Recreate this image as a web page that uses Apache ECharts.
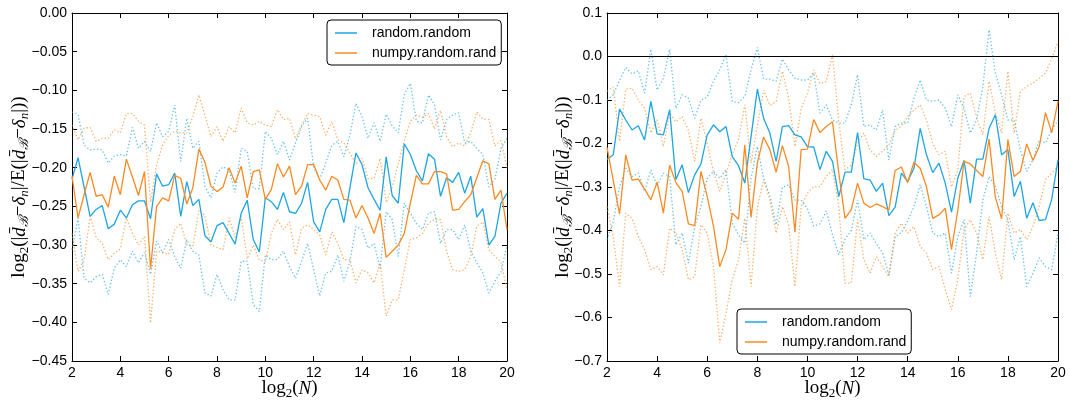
<!DOCTYPE html>
<html><head><meta charset="utf-8">
<script src="https://cdn.jsdelivr.net/npm/echarts@6/dist/echarts.min.js"></script>
<style>html,body{margin:0;padding:0;background:#fff}#c{width:1070px;height:404px}</style>
</head><body><div id="c"></div>
<script>
const X = [2,2.25,2.5,2.75,3,3.25,3.5,3.75,4,4.25,4.5,4.75,5,5.25,5.5,5.75,6,6.25,6.5,6.75,7,7.25,7.5,7.75,8,8.25,8.5,8.75,9,9.25,9.5,9.75,10,10.25,10.5,10.75,11,11.25,11.5,11.75,12,12.25,12.5,12.75,13,13.25,13.5,13.75,14,14.25,14.5,14.75,15,15.25,15.5,15.75,16,16.25,16.5,16.75,17,17.25,17.5,17.75,18,18.25,18.5,18.75,19,19.25,19.5,19.75,20];
const X_TICKS = [2,4,6,8,10,12,14,16,18,20];
const L_Y_TICKS = [0,-0.05,-0.1,-0.15,-0.2,-0.25,-0.3,-0.35,-0.4,-0.45];
const R_Y_TICKS = [0.1,0,-0.1,-0.2,-0.3,-0.4,-0.5,-0.6,-0.7];
const LEGEND_NAMES = ['random.random','numpy.random.rand'];
const ZERO_LINE = 0;

// left panel
const L_rr_mean = [-0.215,-0.187,-0.225,-0.263,-0.254,-0.249,-0.279,-0.273,-0.255,-0.265,
 -0.248,-0.243,-0.243,-0.266,-0.208,-0.224,-0.222,-0.207,-0.263,-0.218,
 -0.249,-0.241,-0.288,-0.296,-0.275,-0.271,-0.285,-0.299,-0.259,-0.242,
 -0.293,-0.309,-0.239,-0.244,-0.254,-0.232,-0.257,-0.259,-0.246,-0.219,
 -0.270,-0.283,-0.254,-0.241,-0.241,-0.271,-0.226,-0.181,-0.196,-0.226,
 -0.241,-0.255,-0.186,-0.236,-0.246,-0.169,-0.183,-0.204,-0.217,-0.182,
 -0.189,-0.237,-0.213,-0.219,-0.206,-0.233,-0.211,-0.264,-0.253,-0.300,
 -0.289,-0.246,-0.233];
const L_rr_hi = [-0.128,-0.131,-0.171,-0.177,-0.176,-0.177,-0.194,-0.185,-0.183,-0.185,
 -0.148,-0.175,-0.166,-0.179,-0.142,-0.160,-0.153,-0.119,-0.192,-0.136,
 -0.175,-0.166,-0.224,-0.239,-0.207,-0.199,-0.203,-0.232,-0.175,-0.179,
 -0.227,-0.227,-0.153,-0.162,-0.183,-0.166,-0.190,-0.168,-0.147,-0.136,
 -0.200,-0.215,-0.194,-0.171,-0.166,-0.186,-0.158,-0.117,-0.134,-0.162,
 -0.142,-0.166,-0.131,-0.146,-0.155,-0.106,-0.091,-0.140,-0.142,-0.106,
 -0.119,-0.164,-0.138,-0.132,-0.129,-0.168,-0.166,-0.175,-0.183,-0.225,
 -0.215,-0.175,-0.162];
const L_rr_lo = [-0.306,-0.265,-0.343,-0.349,-0.341,-0.338,-0.364,-0.330,-0.319,-0.328,
 -0.308,-0.323,-0.310,-0.338,-0.295,-0.310,-0.293,-0.315,-0.330,-0.293,
 -0.308,-0.313,-0.362,-0.366,-0.338,-0.358,-0.371,-0.371,-0.321,-0.321,
 -0.377,-0.386,-0.313,-0.319,-0.319,-0.308,-0.328,-0.343,-0.321,-0.298,
 -0.332,-0.366,-0.336,-0.334,-0.313,-0.347,-0.321,-0.276,-0.280,-0.304,
 -0.298,-0.330,-0.257,-0.267,-0.315,-0.246,-0.259,-0.272,-0.280,-0.259,
 -0.257,-0.298,-0.280,-0.280,-0.293,-0.274,-0.308,-0.323,-0.336,-0.362,
 -0.347,-0.335,-0.300];
const L_np_mean = [-0.211,-0.265,-0.235,-0.206,-0.237,-0.235,-0.251,-0.211,-0.235,-0.189,
 -0.212,-0.236,-0.205,-0.331,-0.250,-0.239,-0.243,-0.210,-0.214,-0.247,
 -0.226,-0.176,-0.193,-0.224,-0.231,-0.225,-0.200,-0.220,-0.198,-0.239,
 -0.205,-0.203,-0.241,-0.228,-0.195,-0.212,-0.198,-0.235,-0.224,-0.196,
 -0.196,-0.216,-0.229,-0.211,-0.216,-0.241,-0.242,-0.265,-0.249,-0.265,
 -0.285,-0.259,-0.316,-0.308,-0.300,-0.285,-0.246,-0.210,-0.221,-0.221,
 -0.205,-0.205,-0.208,-0.255,-0.254,-0.244,-0.235,-0.213,-0.191,-0.195,
 -0.241,-0.229,-0.280];
const L_np_hi = [-0.145,-0.164,-0.149,-0.148,-0.166,-0.162,-0.162,-0.151,-0.155,-0.130,
 -0.130,-0.140,-0.145,-0.245,-0.196,-0.171,-0.158,-0.153,-0.155,-0.155,
 -0.134,-0.106,-0.132,-0.160,-0.147,-0.166,-0.147,-0.155,-0.123,-0.142,
 -0.145,-0.140,-0.145,-0.147,-0.125,-0.138,-0.136,
 -0.163,-0.145,-0.130,-0.132,-0.134,-0.158,-0.140,-0.164,-0.168,-0.181,
 -0.195,-0.188,-0.214,-0.214,-0.188,-0.245,-0.225,-0.195,-0.165,-0.140,
 -0.132,-0.135,-0.130,-0.150,-0.126,-0.160,-0.173,-0.168,-0.172,-0.155,
 -0.128,-0.137,-0.138,-0.172,-0.165,-0.200];
const L_np_lo = [-0.285,-0.334,-0.320,-0.263,-0.290,-0.298,-0.319,-0.311,-0.305,-0.265,
 -0.285,-0.300,-0.289,-0.401,-0.308,-0.310,-0.312,-0.280,-0.272,-0.300,
 -0.302,-0.255,-0.262,-0.300,-0.303,-0.306,-0.265,-0.290,-0.263,-0.318,
 -0.300,-0.319,-0.322,-0.285,-0.267,-0.280,
 -0.270,-0.313,-0.278,-0.274,-0.280,-0.287,-0.313,-0.283,-0.298,-0.319,
 -0.319,-0.349,-0.332,-0.336,-0.349,-0.323,-0.392,-0.371,-0.371,-0.332,
 -0.293,-0.291,-0.285,-0.272,-0.267,-0.267,-0.308,-0.332,-0.334,-0.332,
 -0.315,-0.276,-0.270,-0.306,-0.315,-0.322,-0.358];

// right panel
const R_rr_mean = [-0.236,-0.226,-0.121,-0.146,-0.169,-0.159,-0.192,-0.103,-0.178,-0.180,
 -0.122,-0.283,-0.249,-0.313,-0.272,-0.247,-0.180,-0.157,-0.173,-0.161,
 -0.230,-0.251,-0.291,-0.184,-0.075,-0.142,-0.176,-0.241,-0.161,-0.159,
 -0.180,-0.185,-0.207,-0.208,-0.260,-0.218,-0.241,-0.322,-0.266,-0.266,
 -0.175,-0.281,-0.284,-0.310,-0.291,-0.366,-0.346,-0.268,-0.287,-0.257,
 -0.165,-0.226,-0.267,-0.245,-0.291,-0.358,-0.280,-0.239,-0.337,-0.236,
 -0.236,-0.165,-0.134,-0.226,-0.214,-0.322,-0.287,-0.372,-0.336,-0.377,
 -0.375,-0.328,-0.237];
const R_rr_hi = [-0.100,-0.088,-0.055,-0.025,-0.040,-0.033,-0.084,0.017,-0.077,-0.050,
 0.017,-0.119,-0.088,-0.096,-0.142,-0.100,-0.093,-0.057,-0.031,0.004,
 -0.103,-0.106,-0.092,-0.031,0.021,-0.052,-0.052,-0.057,-0.006,-0.031,
 -0.050,-0.054,-0.054,-0.038,-0.130,-0.111,-0.146,
 -0.153,-0.153,-0.111,-0.042,-0.161,-0.157,-0.169,-0.123,-0.238,-0.161,
 -0.153,-0.153,-0.096,-0.054,-0.100,-0.103,-0.100,-0.119,-0.161,-0.088,
 -0.119,-0.176,-0.146,-0.069,0.061,-0.038,-0.088,-0.146,-0.146,-0.215,
 -0.264,-0.238,-0.192,-0.199,-0.169,-0.146];
const R_rr_lo = [-0.421,-0.380,-0.300,-0.257,-0.276,-0.268,-0.310,-0.261,-0.298,-0.268,
 -0.276,-0.433,-0.406,-0.475,-0.391,-0.345,-0.280,-0.264,-0.280,-0.260,
 -0.383,-0.410,-0.429,-0.280,-0.207,-0.280,-0.320,-0.387,-0.300,-0.295,
 -0.330,-0.330,-0.350,-0.390,-0.385,-0.355,-0.410,-0.456,-0.420,-0.400,
 -0.330,-0.421,-0.406,-0.430,-0.452,-0.502,-0.414,-0.405,-0.378,-0.345,
 -0.295,-0.345,-0.406,-0.414,-0.406,-0.498,-0.414,-0.375,-0.552,-0.452,
 -0.330,-0.276,-0.299,-0.345,-0.375,-0.467,-0.414,-0.529,-0.498,-0.463,
 -0.483,-0.490,-0.406];
const R_np_mean = [-0.209,-0.285,-0.362,-0.226,-0.284,-0.282,-0.305,-0.329,-0.289,-0.360,
 -0.250,-0.290,-0.310,-0.385,-0.389,-0.264,-0.322,-0.390,-0.483,-0.444,
 -0.360,-0.374,-0.203,-0.370,-0.245,-0.185,-0.214,-0.266,-0.205,-0.253,
 -0.404,-0.214,-0.213,-0.145,-0.175,-0.161,-0.150,
 -0.267,-0.372,-0.352,-0.291,-0.337,-0.347,-0.339,-0.345,-0.353,-0.262,
 -0.254,-0.290,-0.243,-0.257,-0.299,-0.372,-0.364,-0.349,-0.444,-0.354,
 -0.241,-0.247,-0.262,-0.276,-0.190,-0.324,-0.373,-0.191,-0.276,-0.264,
 -0.201,-0.239,-0.207,-0.129,-0.175,-0.103];
const R_np_hi = [-0.080,-0.070,-0.195,-0.075,-0.073,-0.100,-0.119,-0.176,-0.145,-0.207,
 -0.130,-0.150,-0.138,-0.170,-0.241,-0.142,-0.200,-0.265,-0.310,-0.270,
 -0.225,-0.190,-0.111,-0.245,-0.160,-0.077,-0.112,-0.104,-0.034,-0.095,
 -0.207,-0.120,-0.085,-0.031,-0.062,-0.058,0.004,
 -0.150,-0.260,-0.250,-0.200,-0.176,-0.215,-0.230,-0.218,-0.203,-0.170,
 -0.160,-0.138,-0.123,-0.111,-0.146,-0.200,-0.226,-0.218,-0.300,-0.261,
 -0.092,-0.084,-0.140,-0.180,-0.057,-0.130,-0.176,-0.034,-0.176,-0.080,
 -0.069,-0.061,-0.050,-0.038,-0.005,0.034];
const R_np_lo = [-0.345,-0.415,-0.529,-0.360,-0.372,-0.414,-0.444,-0.490,-0.483,-0.502,
 -0.395,-0.406,-0.444,-0.513,-0.506,-0.387,-0.406,-0.483,-0.659,-0.590,
 -0.513,-0.467,-0.372,-0.529,-0.349,-0.283,-0.329,-0.406,-0.345,-0.387,
 -0.529,-0.345,-0.314,-0.299,-0.299,-0.276,-0.260,
 -0.345,-0.521,-0.521,-0.375,-0.467,-0.498,-0.460,-0.483,-0.506,-0.406,
 -0.383,-0.406,-0.391,-0.437,-0.452,-0.490,-0.483,-0.536,-0.582,-0.513,
 -0.398,-0.375,-0.406,-0.467,-0.368,-0.452,-0.513,-0.360,-0.406,-0.398,
 -0.421,-0.391,-0.345,-0.283,-0.268,-0.253];

const BLUE = '#1ea5e3', ORANGE = '#fb8a22';
const SANS = 'Liberation Sans', SERIF = 'Liberation Serif';

function pts(a){ return X.map((x,i)=>[x,a[i]]); }
function line(name, arr, color, dotted, xi, yi, extra){
  const s = {type:'line', name:name, data:pts(arr), xAxisIndex:xi, yAxisIndex:yi,
    symbol:'none', showSymbol:false, color:color, silent:true, animation:false,
    emphasis:{disabled:true}, z: dotted?2:3,
    lineStyle: dotted ? {color:color, width:1.3, type:[1.3,2.2], opacity:0.7} : {color:color, width:1.3}};
  return Object.assign(s, extra||{});
}
function fmt(dec){ return function(v){ if (Math.abs(v)<1e-9) v=0; return (v<0?'\u2212':'') + Math.abs(v).toFixed(dec); }; }

const richName = {
  t:{fontFamily:SERIF, fontSize:19, color:'#000', lineHeight:23},
  i:{fontFamily:SERIF, fontSize:19, fontStyle:'italic', color:'#000', lineHeight:23},
  s:{fontFamily:SERIF, fontSize:13, color:'#000', lineHeight:13, verticalAlign:'bottom'},
  si:{fontFamily:SERIF, fontSize:13, fontStyle:'italic', color:'#000', lineHeight:13, verticalAlign:'bottom'}
};
const XNAME = '{t|log}{s|2}{t|(}{i|N}{t|)}';
const YNAME = '{t|log}{s|2}{t|(|}{i|d\u0304}{si|\u212C}{t|\u2212}{i|\u03B4}{si|n}{t||/E(|}{i|d\u0304}{si|\u212C}{t|\u2212}{i|\u03B4}{si|n}{t||))}';

function xAx(grid, pos, labels){
  return {type:'value', gridIndex:grid, position:pos, min:X_TICKS[0], max:X_TICKS[X_TICKS.length-1], interval:X_TICKS[1]-X_TICKS[0],
    axisLine:{show:true, onZero:false, lineStyle:{color:'#000', width:1}},
    axisTick:{show:true, inside:true, length:5, lineStyle:{color:'#000', width:1}},
    axisLabel:{show:labels, color:'#000', fontFamily:SANS, fontSize:14, margin:5},
    splitLine:{show:false},
    name: labels?XNAME:'', nameLocation:'middle', nameGap:16, nameMoveOverlap:false,
    nameTextStyle:{fontFamily:SERIF, fontSize:19, color:'#000', rich:richName}};
}
function yAx(grid, pos, labels, ticks, dec, gap){
  return {type:'value', gridIndex:grid, position:pos, min:ticks[ticks.length-1], max:ticks[0], interval:Math.abs(ticks[0]-ticks[1]),
    axisLine:{show:true, onZero:false, lineStyle:{color:'#000', width:1}},
    axisTick:{show:true, inside:true, length:5, lineStyle:{color:'#000', width:1}},
    axisLabel:{show:labels, color:'#000', fontFamily:SANS, fontSize:14, margin:5, formatter:fmt(dec)},
    splitLine:{show:false},
    name: labels?YNAME:'', nameLocation:'middle', nameGap:gap, nameRotate:90, nameMoveOverlap:false,
    nameTextStyle:{fontFamily:SERIF, fontSize:19, color:'#000', rich:richName}};
}
function legend(left, top){
  return {left:left, top:top, orient:'vertical', data:LEGEND_NAMES, selectedMode:false,
    backgroundColor:'#fff', borderColor:'#000', borderWidth:1, borderRadius:4,
    padding:[6,5,5,8], itemWidth:22, itemHeight:1.5, icon:'rect', itemGap:6,
    textStyle:{fontFamily:SANS, fontSize:14, color:'#000', lineHeight:14, padding:[0,0,0,10]}};
}

const option = {
  animation:false,
  backgroundColor:'#fff',
  grid:[{left:72, top:13, width:435, height:348, containLabel:false, outerBoundsMode:'none'},
        {left:607, top:13, width:451, height:348, containLabel:false, outerBoundsMode:'none'}],
  xAxis:[xAx(0,'bottom',true), xAx(0,'top',false), xAx(1,'bottom',true), xAx(1,'top',false)],
  yAxis:[yAx(0,'left',true,L_Y_TICKS,2,41), yAx(0,'right',false,L_Y_TICKS,2,0),
         yAx(1,'left',true,R_Y_TICKS,1,32), yAx(1,'right',false,R_Y_TICKS,1,0)],
  legend:[legend(327,20), legend(737,309)],
  series:[
    line('L_rr_hi', L_rr_hi, BLUE, true, 0, 0),
    line('L_rr_lo', L_rr_lo, BLUE, true, 0, 0),
    line('L_np_hi', L_np_hi, ORANGE, true, 0, 0),
    line('L_np_lo', L_np_lo, ORANGE, true, 0, 0),
    line(LEGEND_NAMES[0], L_rr_mean, BLUE, false, 0, 0),
    line(LEGEND_NAMES[1], L_np_mean, ORANGE, false, 0, 0),
    line('R_rr_hi', R_rr_hi, BLUE, true, 2, 2),
    line('R_rr_lo', R_rr_lo, BLUE, true, 2, 2),
    line('R_np_hi', R_np_hi, ORANGE, true, 2, 2),
    line('R_np_lo', R_np_lo, ORANGE, true, 2, 2),
    line(LEGEND_NAMES[0], R_rr_mean, BLUE, false, 2, 2, {
      markLine:{symbol:'none', silent:true, animation:false, label:{show:false},
        lineStyle:{color:'#000', type:'solid', width:1.2}, data:[{yAxis:ZERO_LINE}]}}),
    line(LEGEND_NAMES[1], R_np_mean, ORANGE, false, 2, 2)
  ]
};
const chart = echarts.init(document.getElementById('c'));
chart.setOption(option);
</script></body></html>
